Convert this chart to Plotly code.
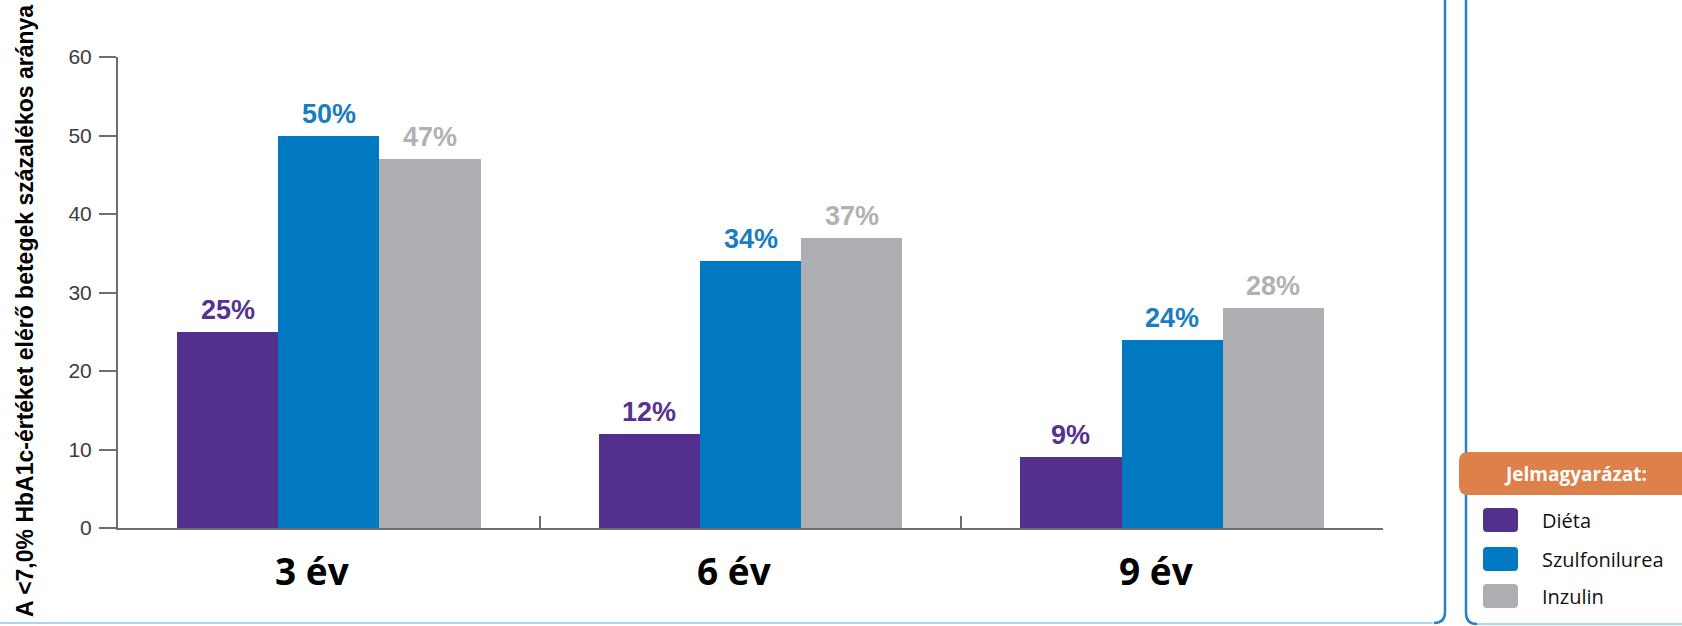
import plotly.graph_objects as go

# --- data -------------------------------------------------------------
categories = ["3 év", "6 év", "9 év"]
series_names = ["Diéta", "Szulfonilurea", "Inzulin"]
dieta = [25, 12, 9]
szulfonilurea = [50, 34, 24]
inzulin = [47, 37, 28]
y_ticks = [0, 10, 20, 30, 40, 50, 60]
y_title = "A <7,0% HbA1c-értéket elérő betegek százalékos aránya"
legend_title = "Jelmagyarázat:"

# --- style ------------------------------------------------------------
colors = ["#53308e", "#0079c2", "#adaeb1"]
label_colors = ["#55328f", "#1b7cc0", "#b0b1b4"]
W, H = 1682, 626
L, R, T, B = 118, 1383, 57, 528          # plot-area edges in pixels
BAR_W = 0.24                              # bar width in category units

def px(x):
    return (x - L) / (R - L)

def py(y):
    return (B - y) / (B - T)

def rounded_rect(x0, y0, x1, y1, r, left_only=False):
    """SVG path (paper coords) of a rounded rectangle given in pixels."""
    pts = []
    if left_only:
        pts.append(f"M{px(x0 + r)},{py(y0)}")
        pts.append(f"L{px(x1)},{py(y0)}")
        pts.append(f"L{px(x1)},{py(y1)}")
        pts.append(f"L{px(x0 + r)},{py(y1)}")
        pts.append(f"Q{px(x0)},{py(y1)} {px(x0)},{py(y1 - r)}")
        pts.append(f"L{px(x0)},{py(y0 + r)}")
        pts.append(f"Q{px(x0)},{py(y0)} {px(x0 + r)},{py(y0)}")
    else:
        pts.append(f"M{px(x0 + r)},{py(y0)}")
        pts.append(f"L{px(x1 - r)},{py(y0)}")
        pts.append(f"Q{px(x1)},{py(y0)} {px(x1)},{py(y0 + r)}")
        pts.append(f"L{px(x1)},{py(y1 - r)}")
        pts.append(f"Q{px(x1)},{py(y1)} {px(x1 - r)},{py(y1)}")
        pts.append(f"L{px(x0 + r)},{py(y1)}")
        pts.append(f"Q{px(x0)},{py(y1)} {px(x0)},{py(y1 - r)}")
        pts.append(f"L{px(x0)},{py(y0 + r)}")
        pts.append(f"Q{px(x0)},{py(y0)} {px(x0 + r)},{py(y0)}")
    return " ".join(pts) + " Z"

fig = go.Figure()

all_series = [dieta, szulfonilurea, inzulin]
offsets = [-BAR_W, 0.0, BAR_W]
annotations = []

for name, vals, col, lcol, off in zip(series_names, all_series, colors, label_colors, offsets):
    xs = [i + off for i in range(len(categories))]
    fig.add_trace(go.Bar(
        x=xs, y=vals, width=BAR_W, name=name,
        marker=dict(color=col, line=dict(width=0)),
        showlegend=False, hoverinfo="skip",
    ))
    for x, v in zip(xs, vals):
        annotations.append(dict(
            x=x, y=v, xref="x", yref="y", text=f"{v}%", showarrow=False,
            yanchor="bottom", yshift=5,
            font=dict(family="Liberation Sans, Arial", size=27, color=lcol, weight="bold"),
        ))

# category labels under each group
for i, cat in enumerate(categories):
    annotations.append(dict(
        x=i, y=0, xref="x", yref="paper", text=f"<b>{cat}</b>", showarrow=False,
        yanchor="middle", yshift=-42, xshift=-16,
        font=dict(family="Open Sans", size=37, color="#000000"),
    ))

# rotated y-axis title
annotations.append(dict(
    x=px(25), y=py(311), xref="paper", yref="paper", text=f"<b>{y_title}</b>",
    showarrow=False, textangle=-90, xanchor="center", yanchor="middle",
    font=dict(family="Liberation Sans, Arial", size=23, color="#000000"),
))

# --- frame / legend panel ---------------------------------------------
shapes = []
dark_blue = "#2a7fc5"
light_blue = "#a9d5ef"
# main panel: bottom edge and rounded right edge
shapes.append(dict(type="path", xref="paper", yref="paper",
                   path=f"M{px(-20)},{py(623)} L{px(1433)},{py(623)}",
                   line=dict(color=light_blue, width=2)))
shapes.append(dict(type="path", xref="paper", yref="paper",
                   path=(f"M{px(1445)},{py(-20)} L{px(1445)},{py(612)} "
                         f"Q{px(1445)},{py(623)} {px(1434)},{py(623)}"),
                   line=dict(color=dark_blue, width=2.5)))
# legend panel: rounded left edge and bottom edge
shapes.append(dict(type="path", xref="paper", yref="paper",
                   path=f"M{px(1476)},{py(624)} L{px(1700)},{py(624)}",
                   line=dict(color=light_blue, width=2)))
shapes.append(dict(type="path", xref="paper", yref="paper",
                   path=(f"M{px(1466)},{py(-20)} L{px(1466)},{py(613)} "
                         f"Q{px(1466)},{py(624)} {px(1477)},{py(624)}"),
                   line=dict(color=dark_blue, width=2.5)))
# legend header
shapes.append(dict(type="path", xref="paper", yref="paper",
                   path=rounded_rect(1459, 452, 1700, 495, 9, left_only=True),
                   fillcolor="#de8049", line=dict(width=0), layer="above"))
annotations.append(dict(
    x=px(1575), y=py(474), xref="paper", yref="paper", text=f"<b>{legend_title}</b>",
    showarrow=False, xanchor="center", yanchor="middle",
    font=dict(family="Open Sans", size=19, color="#ffffff"),
))
# legend entries
legend_rows = [520, 559, 596]
for name, col, yc in zip(series_names, colors, legend_rows):
    shapes.append(dict(type="path", xref="paper", yref="paper",
                       path=rounded_rect(1483, yc - 12, 1518, yc + 12, 4),
                       fillcolor=col, line=dict(width=0), layer="above"))
    annotations.append(dict(
        x=px(1540), y=py(yc), xref="paper", yref="paper", text=name,
        showarrow=False, xanchor="left", yanchor="middle",
        font=dict(family="Open Sans", size=20, color="#111111"),
    ))

fig.update_layout(
    width=W, height=H,
    margin=dict(l=L, r=W - R, t=T, b=H - B),
    paper_bgcolor="#ffffff", plot_bgcolor="#ffffff",
    bargap=0, barmode="overlay",
    xaxis=dict(
        range=[-0.5, len(categories) - 0.5], showgrid=False, zeroline=False,
        showline=True, linecolor="#6e6e6e", linewidth=2,
        tickmode="array", tickvals=[0.5, 1.5, 2.5], ticks="inside", ticklen=12,
        tickwidth=2, tickcolor="#6e6e6e", showticklabels=False, fixedrange=True,
    ),
    yaxis=dict(
        range=[0, 60], showgrid=False, zeroline=False,
        showline=True, linecolor="#6e6e6e", linewidth=2,
        tickmode="array", tickvals=y_ticks, ticks="outside", ticklen=17,
        tickwidth=2, tickcolor="#6e6e6e", ticklabelstandoff=3,
        tickfont=dict(family="Liberation Sans, Arial", size=21, color="#3c3c3c"),
        fixedrange=True,
    ),
    shapes=shapes, annotations=annotations,
    showlegend=False,
)

fig.write_html("out.html")
